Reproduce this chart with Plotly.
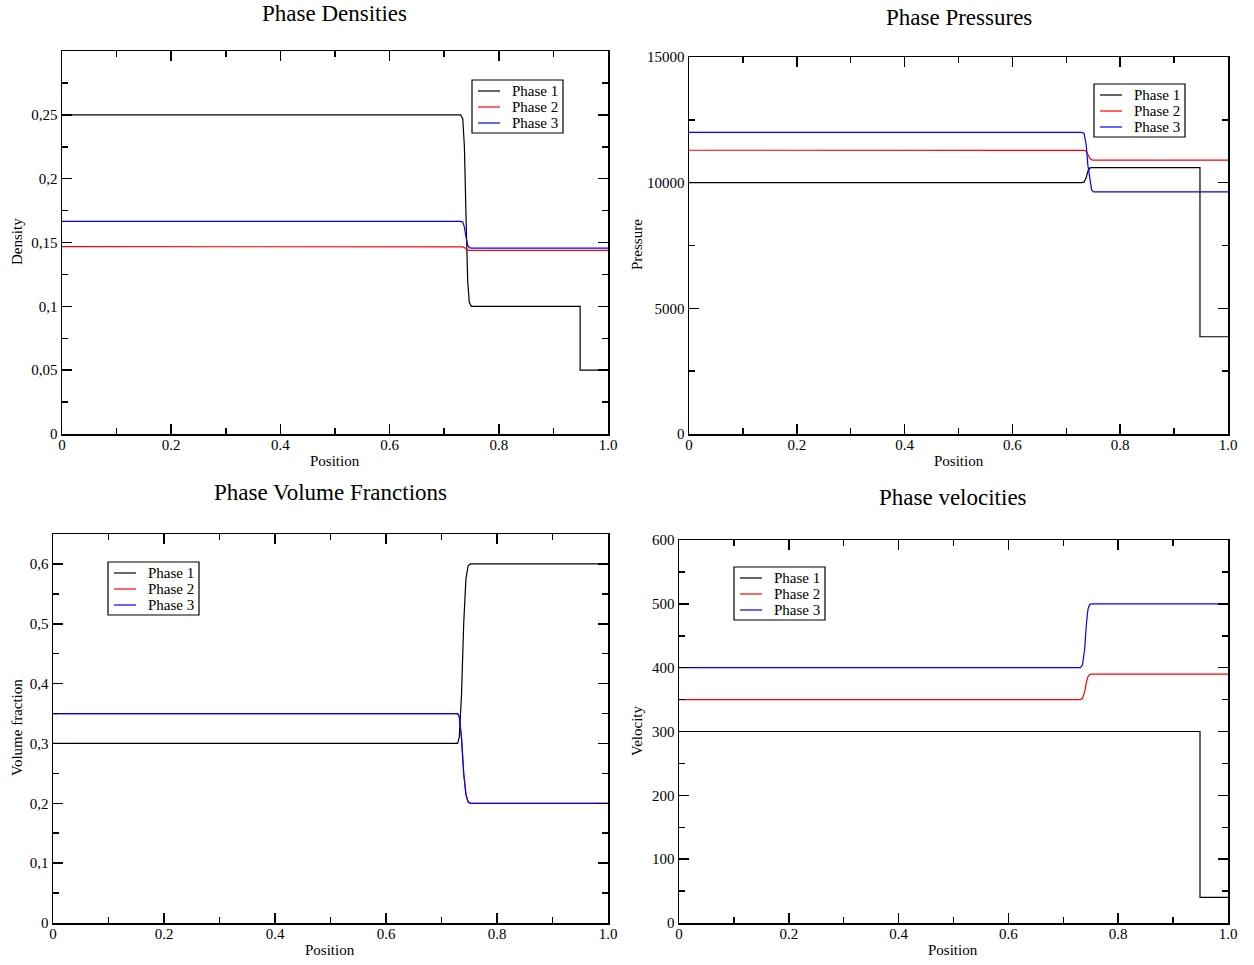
import plotly.graph_objects as go

W, H = 1254, 965
FONT = "Liberation Serif"

# ---------------- data ----------------
phase_names = ["Phase 1", "Phase 2", "Phase 3"]
phase_colors = ["#000000", "#ff0000", "#0000ff"]

# Densities
x_density = [0.0, 0.730, 0.734, 0.737, 0.740, 0.743, 0.746, 0.750, 0.949, 0.949, 1.0]
rho_1 = [0.25, 0.25, 0.247, 0.225, 0.170, 0.120, 0.103, 0.100, 0.100, 0.050, 0.050]
rho_2 = [0.1467, 0.1467, 0.1466, 0.1460, 0.1450, 0.1442, 0.1439, 0.1438, 0.1438, 0.1438, 0.1438]
rho_3 = [0.1666, 0.1666, 0.1660, 0.1620, 0.1540, 0.1480, 0.1460, 0.1456, 0.1456, 0.1456, 0.1456]

# Pressures
x_pressure = [0.0, 0.729, 0.733, 0.737, 0.740, 0.744, 0.747, 0.751, 0.948, 0.948, 1.0]
p_1 = [10000, 10000, 10030, 10200, 10450, 10590, 10600, 10600, 10600, 3870, 3870]
p_2 = [11290, 11290, 11285, 11250, 11120, 10960, 10910, 10900, 10900, 10900, 10900]
p_3 = [12000, 12000, 11960, 11500, 10700, 10000, 9700, 9630, 9630, 9630, 9630]

# Volume fractions
x_fraction = [0.0, 0.729, 0.732, 0.736, 0.740, 0.744, 0.748, 0.752, 1.0]
a_1 = [0.30, 0.30, 0.31, 0.38, 0.50, 0.575, 0.597, 0.60, 0.60]
a_2 = [0.35, 0.35, 0.345, 0.31, 0.25, 0.215, 0.202, 0.20, 0.20]
a_3 = [0.35, 0.35, 0.345, 0.31, 0.25, 0.215, 0.202, 0.20, 0.20]

# Velocities
x_velocity = [0.0, 0.731, 0.735, 0.739, 0.742, 0.745, 0.748, 0.751, 0.949, 0.949, 1.0]
u_1 = [300, 300, 300, 300, 300, 300, 300, 300, 300, 40, 40]
u_2 = [350, 350, 352, 362, 377, 386, 389, 390, 390, 390, 390]
u_3 = [400, 400, 404, 430, 468, 492, 499, 500, 500, 500, 500]

# Tick labels
x_tickvals = [0, 0.2, 0.4, 0.6, 0.8, 1.0]
x_ticktext = ["0", "0.2", "0.4", "0.6", "0.8", "1.0"]
x_minor = [0.1, 0.3, 0.5, 0.7, 0.9]

rho_tickvals = [0, 0.05, 0.1, 0.15, 0.2, 0.25]
rho_ticktext = ["0", "0,05", "0,1", "0,15", "0,2", "0,25"]
rho_minor = [0.025, 0.075, 0.125, 0.175, 0.225, 0.275]

p_tickvals = [0, 5000, 10000, 15000]
p_ticktext = ["0", "5000", "10000", "15000"]
p_minor = [2500, 7500, 12500]

a_tickvals = [0, 0.1, 0.2, 0.3, 0.4, 0.5, 0.6]
a_ticktext = ["0", "0,1", "0,2", "0,3", "0,4", "0,5", "0,6"]
a_minor = [0.05, 0.15, 0.25, 0.35, 0.45, 0.55, 0.65]

u_tickvals = [0, 100, 200, 300, 400, 500, 600]
u_ticktext = ["0", "100", "200", "300", "400", "500", "600"]
u_minor = [50, 150, 250, 350, 450, 550]

# ---------------- layout helpers ----------------
def px_x(x):
    return x / W

def px_y(y):
    return 1 - y / H

panels = [
    dict(box=(62, 608, 51, 434), title="Phase Densities", title_x=334,
         ytitle="Density", ytitle_xy=(17, 242), xtitle_xy=(335, 461),
         legend_xy=(472, 80), yrange=[0, 0.3],
         yt=(rho_tickvals, rho_ticktext, rho_minor),
         x=x_density, ys=[rho_1, rho_2, rho_3]),
    dict(box=(689, 1228, 57, 434), title="Phase Pressures", title_x=959,
         ytitle="Pressure", ytitle_xy=(637, 245), xtitle_xy=(959, 461),
         legend_xy=(1094, 84), yrange=[0, 15000],
         yt=(p_tickvals, p_ticktext, p_minor),
         x=x_pressure, ys=[p_1, p_2, p_3]),
    dict(box=(53, 608, 534, 923), title="Phase Volume Franctions", title_x=330,
         ytitle="Volume fraction", ytitle_xy=(17, 728), xtitle_xy=(330, 950),
         legend_xy=(108, 562), yrange=[0, 0.65],
         yt=(a_tickvals, a_ticktext, a_minor),
         x=x_fraction, ys=[a_1, a_2, a_3]),
    dict(box=(679, 1228, 540, 923), title="Phase velocities", title_x=953,
         ytitle="Velocity", ytitle_xy=(637, 731), xtitle_xy=(953, 950),
         legend_xy=(734, 567), yrange=[0, 600],
         yt=(u_tickvals, u_ticktext, u_minor),
         x=x_velocity, ys=[u_1, u_2, u_3]),
]
# caps-centre of each panel title (pixels from top)
title_y = [11, 18, 493, 498]

fig = go.Figure()
layout = dict(
    width=W, height=H, margin=dict(l=0, r=0, t=0, b=0, pad=0, autoexpand=False),
    paper_bgcolor="white", plot_bgcolor="white",
    font=dict(family=FONT, color="black", size=15),
    showlegend=False,
    annotations=[], shapes=[],
)

def axis_common():
    return dict(
        showline=True, linecolor="black", linewidth=1.5, mirror="allticks",
        ticks="inside", ticklen=10, tickwidth=1.5, tickcolor="black",
        showgrid=False, zeroline=False, tickmode="array", automargin=False,
        tickfont=dict(family=FONT, size=15, color="black"),
    )

LEG_W, LEG_H = 91, 53
for i, p in enumerate(panels):
    n = "" if i == 0 else str(i + 1)
    x0, x1, yt_, yb_ = p["box"]
    xa = axis_common()
    xa.update(domain=[px_x(x0), px_x(x1)], range=[0, 1],
              tickvals=x_tickvals, ticktext=x_ticktext,
              anchor="y" + n, ticklabelstandoff=-4,
              minor=dict(tickmode="array", tickvals=x_minor, ticks="inside",
                         ticklen=6, tickwidth=1.5, tickcolor="black", showgrid=False))
    ya = axis_common()
    tv, tt, mv = p["yt"]
    ya.update(domain=[px_y(yb_), px_y(yt_)], range=p["yrange"],
              tickvals=tv, ticktext=tt, anchor="x" + n,
              minor=dict(tickmode="array", tickvals=mv, ticks="inside",
                         ticklen=6, tickwidth=1.5, tickcolor="black", showgrid=False))
    layout["xaxis" + n] = xa
    layout["yaxis" + n] = ya

    for name, color, yv in zip(phase_names, phase_colors, p["ys"]):
        fig.add_trace(go.Scatter(
            x=p["x"], y=yv, mode="lines", name=name,
            line=dict(color=color, width=1.2),
            xaxis="x" + n, yaxis="y" + n, showlegend=False,
        ))

    # legend box drawn like the original (xmgrace style)
    lx, ly = p["legend_xy"]
    layout["shapes"].append(dict(
        type="rect", xref="paper", yref="paper",
        x0=px_x(lx), x1=px_x(lx + LEG_W), y0=px_y(ly + LEG_H), y1=px_y(ly),
        line=dict(color="black", width=1.2), fillcolor="white", layer="above"))
    for k, (name, color) in enumerate(zip(phase_names, phase_colors)):
        ry = ly + 11 + 16 * k
        layout["shapes"].append(dict(
            type="line", xref="paper", yref="paper",
            x0=px_x(lx + 6), x1=px_x(lx + 28), y0=px_y(ry), y1=px_y(ry),
            line=dict(color=color, width=1.2), layer="above"))
        layout["annotations"].append(dict(
            text=name, x=px_x(lx + 38), y=px_y(ry), xref="paper", yref="paper",
            xanchor="left", yanchor="middle", showarrow=False,
            font=dict(family=FONT, size=15, color="black")))

    ty = title_y[i]
    if ty < 14:
        tdict = dict(y=1.0, yanchor="top")
    else:
        tdict = dict(y=px_y(ty), yanchor="middle")
    layout["annotations"].append(dict(
        text=p["title"], x=px_x(p["title_x"]), xref="paper", yref="paper",
        xanchor="center", showarrow=False, borderpad=0,
        font=dict(family=FONT, size=23, color="black"), **tdict))
    ax_, ay_ = p["xtitle_xy"]
    layout["annotations"].append(dict(
        text="Position", x=px_x(ax_), y=px_y(ay_), xref="paper", yref="paper",
        xanchor="center", yanchor="middle", showarrow=False,
        font=dict(family=FONT, size=15, color="black")))
    yx_, yy_ = p["ytitle_xy"]
    layout["annotations"].append(dict(
        text=p["ytitle"], x=px_x(yx_), y=px_y(yy_), xref="paper", yref="paper",
        xanchor="center", yanchor="middle", showarrow=False, textangle=-90,
        font=dict(family=FONT, size=15, color="black")))

fig.update_layout(**layout)
fig.write_html(
    "out.html",
    config={"displayModeBar": False, "staticPlot": True},
    post_script="document.body.style.margin='0';document.body.style.overflow='hidden';",
)
